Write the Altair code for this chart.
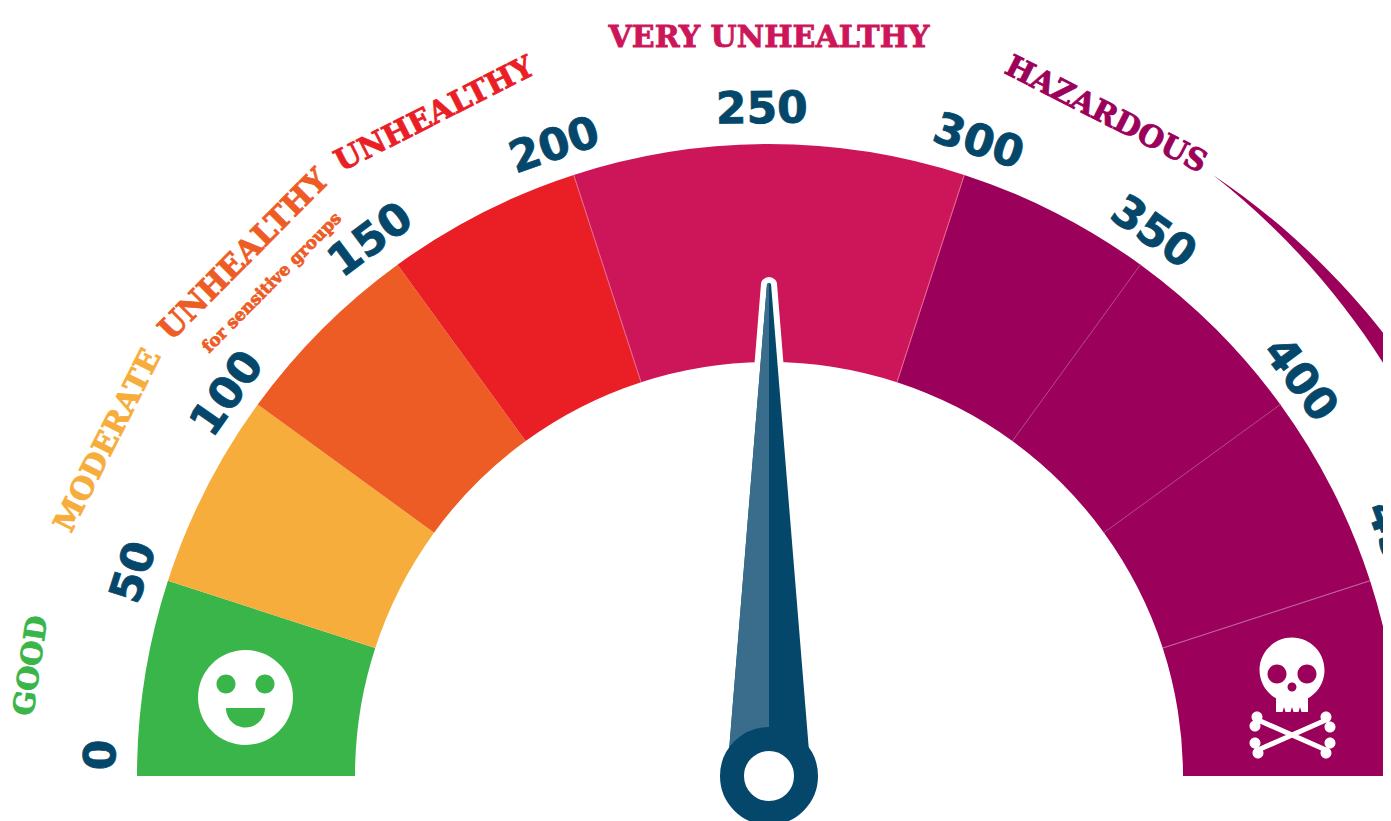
import math
import altair as alt
import pandas as pd

# plot-area position of the gauge centre
CX, CY = 761, 768
R_IN, R_OUT = 414, 632

seg_start = [0, 50, 100, 150, 200, 300]
seg_end = [50, 100, 150, 200, 300, 500]
seg_color = ["#3AB54A", "#F7AD3C", "#EE5C25", "#EA1E25", "#CD1659", "#9B005B"]

div_value = [200, 300, 350, 400, 450]
div_color = ["#E5688F", "#E5688F", "#B5478A", "#B5478A", "#C56A9F"]

tick_text = ["0", "50", "100", "150", "200", "250", "300", "350", "400", "450"]
tick_pos = [5, 49.4, 97.8, 148.3, 197.8, 248.3, 300.8, 348, 398, 444]
tick_r = [667, 666, 662, 667, 665, 666, 667, 665, 662, 666]

cat_text = ["GOOD", "MODERATE", "UNHEALTHY", "for sensitive groups", "UNHEALTHY", "VERY UNHEALTHY", "HAZARDOUS"]
cat_pos = [23.6, 74.7, 124.4, 124.4, 175.5, 250, 325]
cat_r = [746, 741, 739, 700, 741, 738, 742]
cat_size = [29, 30, 31, 17, 30, 30, 30]
cat_color = ["#3AB54A", "#F7AD3C", "#EE5C25", "#EE5C25", "#EA1E25", "#CD1659", "#9B005B"]

needle_value = [250]

theta_scale = alt.Scale(domain=[0, 500], range=[-math.pi / 2, math.pi / 2])
angle_scale = alt.Scale(domain=[0, 500], range=[-90, 90])


def circle(x, y, r):
    return f"M{x - r},{y} a{r},{r} 0 1,0 {2 * r},0 a{r},{r} 0 1,0 {-2 * r},0 Z "


def capsule(x1, y1, x2, y2, w):
    dx, dy = x2 - x1, y2 - y1
    n = math.hypot(dx, dy)
    ox, oy = -dy / n * w / 2, dx / n * w / 2
    return (f"M{x1 + ox:.1f},{y1 + oy:.1f} L{x2 + ox:.1f},{y2 + oy:.1f} "
            f"L{x2 - ox:.1f},{y2 - oy:.1f} L{x1 - ox:.1f},{y1 - oy:.1f} Z ")


segments = pd.DataFrame({"start": seg_start, "end": seg_end, "color": seg_color})
dividers = pd.DataFrame({"value": div_value, "color": div_color})
ticks = pd.DataFrame({"text": tick_text, "pos": tick_pos, "r": tick_r})
cats = pd.DataFrame({"text": cat_text, "pos": cat_pos, "r": cat_r, "size": cat_size, "color": cat_color})
needle = pd.DataFrame({"value": needle_value})
one = pd.DataFrame({"a": [0]})

x0, y0 = alt.value(CX), alt.value(CY)

arc_layer = alt.Chart(segments).mark_arc(radius=R_OUT, radius2=R_IN).encode(
    theta=alt.Theta("start:Q", scale=theta_scale),
    theta2="end:Q",
    fill=alt.Fill("color:N", scale=None),
    x=x0, y=y0,
)

div_layer = alt.Chart(dividers).mark_arc(radius=R_OUT, radius2=R_IN, strokeWidth=0.7, fillOpacity=0).encode(
    theta=alt.Theta("value:Q", scale=theta_scale),
    theta2="value:Q",
    stroke=alt.Stroke("color:N", scale=None),
    x=x0, y=y0,
)

tick_layer = alt.Chart(ticks).mark_text(
    font="DejaVu Sans", fontWeight="bold", fontSize=44, baseline="middle", align="center",
    color="#04476A", stroke="#04476A", strokeWidth=0.8,
).encode(
    text="text:N",
    theta=alt.Theta("pos:Q", scale=theta_scale),
    radius=alt.Radius("r:Q", scale=None),
    angle=alt.Angle("pos:Q", scale=angle_scale),
    x=x0, y=y0,
)

cat_layer = alt.Chart(cats).mark_text(
    font="DejaVu Serif", fontWeight="bold", baseline="middle", align="center", strokeWidth=0.8,
).encode(
    text="text:N",
    theta=alt.Theta("pos:Q", scale=theta_scale),
    radius=alt.Radius("r:Q", scale=None),
    angle=alt.Angle("pos:Q", scale=angle_scale),
    size=alt.Size("size:Q", scale=None),
    fill=alt.Fill("color:N", scale=None),
    stroke=alt.Stroke("color:N", scale=None),
    x=x0, y=y0,
)

# Crescent that starts beside HAZARDOUS (path units are pixels at size=4)
crescent = ("M444,-601 A740,740 0 0 1 640,-408 L624,-397 A745,745 0 0 0 444,-601 Z")
crescent_layer = alt.Chart(one).mark_point(
    shape=crescent, size=4, filled=True, fill="#9B005B", opacity=1
).encode(x=x0, y=y0)

NEEDLE_FULL = "M-2,-492 Q0,-494 2,-492 L40,-25 L-40,-25 Z"
NEEDLE_LEFT = "M-2,-492 L0,-493 L0,-25 L-40,-25 Z"
needle_angle = alt.Angle("value:Q", scale=angle_scale)
needle_halo = alt.Chart(needle).mark_point(
    shape=NEEDLE_FULL, size=4, filled=True, fill="#FFFFFF", stroke="#FFFFFF", strokeWidth=12, opacity=1,
    strokeJoin="round",
).encode(x=x0, y=y0, angle=needle_angle)
needle_dark = alt.Chart(needle).mark_point(
    shape=NEEDLE_FULL, size=4, filled=True, fill="#04476A", opacity=1
).encode(x=x0, y=y0, angle=needle_angle)
needle_light = alt.Chart(needle).mark_point(
    shape=NEEDLE_LEFT, size=4, filled=True, fill="#3A6D8C", opacity=1
).encode(x=x0, y=y0, angle=needle_angle)
hub = alt.Chart(needle).mark_point(
    shape="circle", size=(2 * 37) ** 2, filled=True, fill="#FFFFFF", stroke="#04476A", strokeWidth=24, opacity=1
).encode(x=x0, y=y0)

# Smiley icon, centred on its face
smile_x, smile_y = alt.value(237.5), alt.value(689.5)
smile_face = alt.Chart(one).mark_point(
    shape=circle(0, 0, 47.5), size=4, filled=True, fill="#FFFFFF", opacity=1
).encode(x=smile_x, y=smile_y)
smile_bits = alt.Chart(one).mark_point(
    shape=circle(-19.5, -13.5, 9.5) + circle(19.5, -13.5, 9.5) + "M-19.5,10.5 L19.5,10.5 A19.5,19.5 0 0 1 -19.5,10.5 Z",
    size=4, filled=True, fill="#3AB54A", opacity=1,
).encode(x=smile_x, y=smile_y)

# Skull icon: path origin is the centre of the cranium
skull_x, skull_y = alt.value(1284), alt.value(662)
skull_white = (
    circle(0, 0, 32.5)
    + "M-16,15 L-16,42 L16,42 L16,15 Z "
    + capsule(-34, 50, 34, 80, 5)
    + capsule(-34, 80, 34, 50, 5)
    + circle(-35, 47, 5.5) + circle(-37, 56, 5.5)
    + circle(34, 47, 5.5) + circle(38, 57, 5.5)
    + circle(-37, 73, 5.5) + circle(-34, 83, 5.5)
    + circle(38, 73, 5.5) + circle(34, 83, 5.5)
)
skull_holes = (
    circle(-15, 4, 9.5) + circle(15, 4, 9.5) + circle(0, 17, 4.5)
    + "M-8,37 L-6.5,42 L-9.5,42 Z M0,37 L1.5,42 L-1.5,42 Z M8,37 L9.5,42 L6.5,42 Z"
)
skull_a = alt.Chart(one).mark_point(
    shape=skull_white, size=4, filled=True, fill="#FFFFFF", opacity=1
).encode(x=skull_x, y=skull_y)
skull_b = alt.Chart(one).mark_point(
    shape=skull_holes, size=4, filled=True, fill="#9B005B", opacity=1
).encode(x=skull_x, y=skull_y)

chart = alt.layer(
    arc_layer, div_layer, crescent_layer, tick_layer, cat_layer,
    smile_face, smile_bits, skull_a, skull_b,
    needle_halo, needle_dark, needle_light, hub,
).properties(
    width=1375, height=813, padding=0, background="#FFFFFF",
    autosize=alt.AutoSizeParams(type="none"),
).configure_view(stroke=None)

chart.save("out.html", embed_options={"renderer": "svg", "actions": False})
